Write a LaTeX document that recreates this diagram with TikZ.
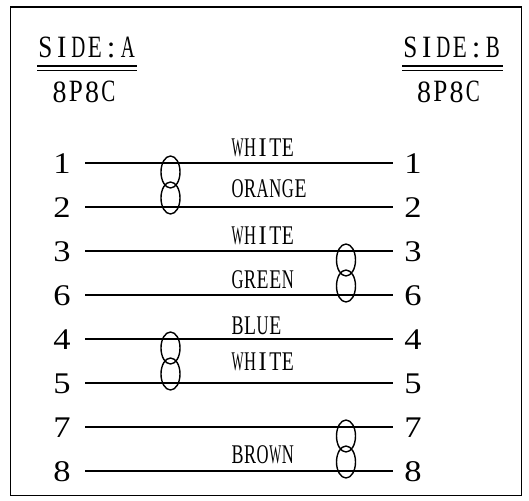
\documentclass[tikz,border=0pt]{standalone}
\usepackage{graphicx}
\usepackage{fontspec}
\setmainfont{Liberation Serif}
\newfontfamily\labelfont{Liberation Serif}
\newfontfamily\titlefont{Liberation Serif}
\newfontfamily\pinfont{Liberation Serif}
\newif\ifmonokeepI
\makeatletter
\newcommand\monotext[3]{\def\mono@w{#1}\def\mono@ink{#2}\mono@loop#3\@nil}
\def\mono@loop#1{\ifx#1\@nil\else\mono@char#1\expandafter\mono@loop\fi}
\def\mono@char#1{\makebox[\mono@w][c]{%
  \ifx#1:#1\else
    \ifx#1I\ifmonokeepI\scalebox{0.9}[1]{#1}\else\resizebox{\mono@ink}{\height}{#1}\fi
    \else\resizebox{\mono@ink}{\height}{#1}\fi
  \fi}}
\makeatother
\newcommand\pinnum[1]{\scalebox{1.15}[1]{#1}}
\begin{document}
\begin{tikzpicture}[x=1pt,y=-1pt,
  wire/.style={line width=1.9pt},
  twist/.style={line width=1.4pt},
  frame/.style={line width=1.6pt},
  uline/.style={line width=1.4pt},
  pin/.style={inner sep=0pt,anchor=base,font=\pinfont\fontsize{30}{30}\selectfont},
  wlabel/.style={inner sep=0pt,anchor=base west,font=\labelfont\fontsize{27}{27}\selectfont\monokeepItrue},
  title/.style={inner sep=0pt,anchor=base,font=\titlefont\fontsize{31}{31}\selectfont\monokeepItrue}]
\useasboundingbox (0,0) rectangle (529,500);
\draw[frame] (10.5,7) rectangle (521.5,495.5);
% titles
\node[title] (ta) at (86.5,58) {\monotext{16.5pt}{14pt}{SIDE:A}};
\node[title] (ca) at (84,102) {\monotext{16.3pt}{14pt}{8P8C}};
\node[title] (tb) at (451.5,58) {\monotext{16.5pt}{14pt}{SIDE:B}};
\node[title] (cb) at (448.5,102) {\monotext{16.3pt}{14pt}{8P8C}};
\coordinate (ua1) at (37,66); \coordinate (ua2) at (137,66);
\coordinate (ua3) at (37,70.5); \coordinate (ua4) at (137,70.5);
\coordinate (ub1) at (402,66); \coordinate (ub2) at (503,66);
\coordinate (ub3) at (402,70.5); \coordinate (ub4) at (503,70.5);
\draw[uline] (ua1) -- (ua2);
\draw[uline] (ua3) -- (ua4);
\draw[uline] (ub1) -- (ub2);
\draw[uline] (ub3) -- (ub4);
% wires
\foreach \p/\y in {1/163,2/207,3/251,6/295,4/339,5/383,7/427,8/471}{
  \coordinate (L\p) at (85,\y);
  \coordinate (R\p) at (393,\y);
  \draw[wire] (L\p) -- (R\p);
  \node[pin] (nl\p) at (62,\y+10.5) {\pinnum{\p}};
  \node[pin] (nr\p) at (413,\y+10.5) {\pinnum{\p}};
}
% labels
\node[wlabel] (w1) at (231,156) {\monotext{12.6pt}{12pt}{WHITE}};
\node[wlabel] (w2) at (231,197) {\monotext{12.6pt}{12pt}{ORANGE}};
\node[wlabel] (w3) at (231,244) {\monotext{12.6pt}{12pt}{WHITE}};
\node[wlabel] (w6) at (231,288) {\monotext{12.6pt}{12pt}{GREEN}};
\node[wlabel] (w4) at (231,334) {\monotext{12.6pt}{12pt}{BLUE}};
\node[wlabel] (w5) at (231,370) {\monotext{12.6pt}{12pt}{WHITE}};
\node[wlabel] (w8) at (231,463) {\monotext{12.6pt}{12pt}{BROWN}};
% twist markers
\foreach \x/\m in {170.5/185,346/273,170.5/361,346/449}{
  \draw[twist] (\x,\m-13) ellipse [x radius=9.5pt, y radius=16pt];
  \draw[twist] (\x,\m+13) ellipse [x radius=9.5pt, y radius=16pt];
}
\end{tikzpicture}
\end{document}
